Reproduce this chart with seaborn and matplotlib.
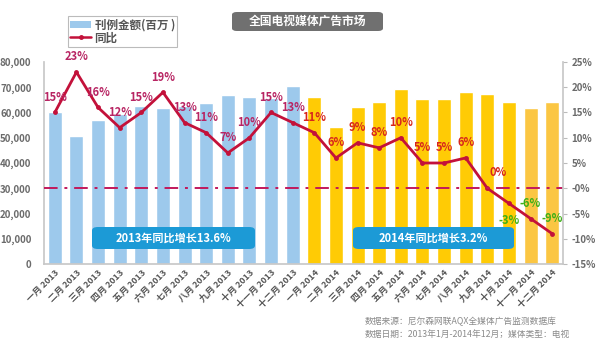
import numpy as np
import pandas as pd
import matplotlib
matplotlib.use("Agg")
import matplotlib.pyplot as plt
import seaborn as sns
from matplotlib.patches import Patch, FancyBboxPatch
from matplotlib.lines import Line2D
from matplotlib.ticker import FuncFormatter

# ---------------- data ----------------
months_cn = ["一月", "二月", "三月", "四月", "五月", "六月",
             "七月", "八月", "九月", "十月", "十一月", "十二月"]
years = ["2013", "2014"]
categories = [f"{m} {y}" for y in years for m in months_cn]

amount_2013 = [60200, 50700, 57000, 59400, 62600, 61700,
               62700, 63900, 66900, 66100, 65600, 70500]
amount_2014 = [66300, 54100, 62300, 64300, 69200, 65300,
               65500, 68000, 67500, 64000, 61600, 64000]
yoy_2013 = [15, 23, 16, 12, 15, 19, 13, 11, 7, 10, 15, 13]
yoy_2014 = [11, 6, 9, 8, 10, 5, 5, 6, 0, -3, -6, -9]

left_ticks = [0, 10000, 20000, 30000, 40000, 50000, 60000, 70000, 80000]
right_ticks = [-15, -10, -5, 0, 5, 10, 15, 20, 25]
right_tick_labels = ["-15%", "-10%", "-5%", "-0%", "5%", "10%", "15%", "20%", "25%"]

title = "全国电视媒体广告市场"
legend_labels = ["刊例金额(百万 )", "同比"]
note_2013 = "2013年同比增长13.6%"
note_2014 = "2014年同比增长3.2%"
source_lines = ["数据来源：尼尔森网联AQX全媒体广告监测数据库",
                "数据日期：2013年1月-2014年12月；媒体类型：电视"]

amount = amount_2013 + amount_2014
yoy = yoy_2013 + yoy_2014

df = pd.DataFrame({"month": categories, "amount": amount, "yoy": yoy})

# ---------------- style ----------------
sns.set_theme(style="white")
plt.rcParams["font.family"] = ["Noto Sans CJK SC", "DejaVu Sans"]
plt.rcParams["font.weight"] = "bold"

blue = "#9DC9EC"
gold = "#FFCB05"
gold_light = "#FBC643"
bar_colors = [blue] * 12 + [gold] * 10 + [gold_light] * 2
line_color = "#C3113A"
lab2013 = "#B82563"
lab2014 = "#D8261C"
labneg = "#3EB017"
gray_text = "#6B6B6B"

fig = plt.figure(figsize=(6.0, 3.47), dpi=100)
fig.patch.set_facecolor("white")
ax = fig.add_axes([44 / 600, 1 - 264 / 347, (563 - 44) / 600, (264 - 62) / 347])

sns.barplot(data=df, x="month", y="amount", hue="month", palette=bar_colors,
            legend=False, width=0.65, ax=ax, saturation=1)
ax.set_xlim(-0.5, 23.5)
ax.set_ylim(0, 80000)
ax.set_yticks(left_ticks)
ax.yaxis.set_major_formatter(FuncFormatter(lambda v, p: f"{int(v):,}"))
ax.set_xlabel("")
ax.set_ylabel("")
ax.tick_params(axis="y", labelsize=7, colors=gray_text, length=0, pad=9)
ax.tick_params(axis="x", labelsize=6.5, colors="#555555", length=0, pad=3)
plt.setp(ax.get_xticklabels(), rotation=45, ha="right", rotation_mode="anchor")
for s in ["top", "right"]:
    ax.spines[s].set_visible(False)
ax.spines["left"].set_color("#C8C8C8")
ax.spines["bottom"].set_color("#C8C8C8")

ax2 = ax.twinx()
x = np.arange(len(yoy))
sns.lineplot(x=x, y=yoy, ax=ax2, color=line_color, linewidth=2.0,
             marker="o", markersize=3.5, markeredgewidth=0)
ax2.set_ylim(-15, 25)
ax2.set_xlim(-0.5, 23.5)
ax2.set_yticks(right_ticks)
ax2.set_yticklabels(right_tick_labels)
ax2.tick_params(axis="y", labelsize=7, colors=gray_text, length=3, width=0.8,
                pad=3, color="#BBBBBB")
for s in ["top", "left", "bottom"]:
    ax2.spines[s].set_visible(False)
ax2.spines["right"].set_color("#C8C8C8")

# dash-dot reference line at 0%
ax2.axhline(0, color="#C2185B", linewidth=1.4, dashes=(7, 3.5, 1.5, 3.5))

# data labels
for i, v in enumerate(yoy):
    if i < 12:
        c = lab2013
    else:
        c = labneg if v < 0 else lab2014
    dy = 11
    dx = 0
    if i == 21:
        dy = -12
    if i == 20:
        dx = 8
    ax2.annotate(f"{v}%", (i, v), xytext=(dx, dy), textcoords="offset points",
                 ha="center", va="center", fontsize=8, fontweight="bold", color=c)

# legend
handles = [Patch(facecolor=blue, edgecolor="none"),
           Line2D([0], [0], color=line_color, linewidth=1.8, marker="o", markersize=2.5)]
leg = fig.legend(handles, legend_labels, loc="upper left",
                 bbox_to_anchor=(68 / 600, 1 - 16 / 347), frameon=True,
                 fontsize=8.3, handlelength=1.8, handleheight=0.6,
                 borderpad=0.2, labelspacing=0.0, handletextpad=0.3,
                 fancybox=False, borderaxespad=0)
leg.get_frame().set_edgecolor("#AAAAAA")
leg.get_frame().set_linewidth(0.8)
for t in leg.get_texts():
    t.set_color("#555555")

# title box
fig.patches.append(FancyBboxPatch((232 / 600, 1 - 31 / 347), 151 / 600, 19 / 347,
                                  boxstyle="round,pad=0,rounding_size=0.008",
                                  transform=fig.transFigure, facecolor="#707070",
                                  edgecolor="none"))
fig.text(307.5 / 600, 1 - 21.5 / 347, title, ha="center", va="center",
         fontsize=8.5, fontweight="bold", color="white")

# notes
for (x0, x1, txt) in [(92, 255, note_2013), (353, 514, note_2014)]:
    fig.patches.append(FancyBboxPatch((x0 / 600, 1 - 249 / 347), (x1 - x0) / 600, 22 / 347,
                                      boxstyle="round,pad=0,rounding_size=0.01",
                                      transform=fig.transFigure, facecolor="#1C9AD6",
                                      edgecolor="none", zorder=5))
    fig.text((x0 + x1) / 2 / 600, 1 - 238 / 347, txt, ha="center", va="center",
             fontsize=8, fontweight="bold", color="white", zorder=6)

# source
fig.text(365 / 600, 1 - 322 / 347, source_lines[0], ha="left", va="center",
         fontsize=6.3, fontweight="normal", color="#8A8A8A")
fig.text(365 / 600, 1 - 334 / 347, source_lines[1], ha="left", va="center",
         fontsize=6.3, fontweight="normal", color="#8A8A8A")

fig.savefig("out.png", dpi=100, facecolor="white")
